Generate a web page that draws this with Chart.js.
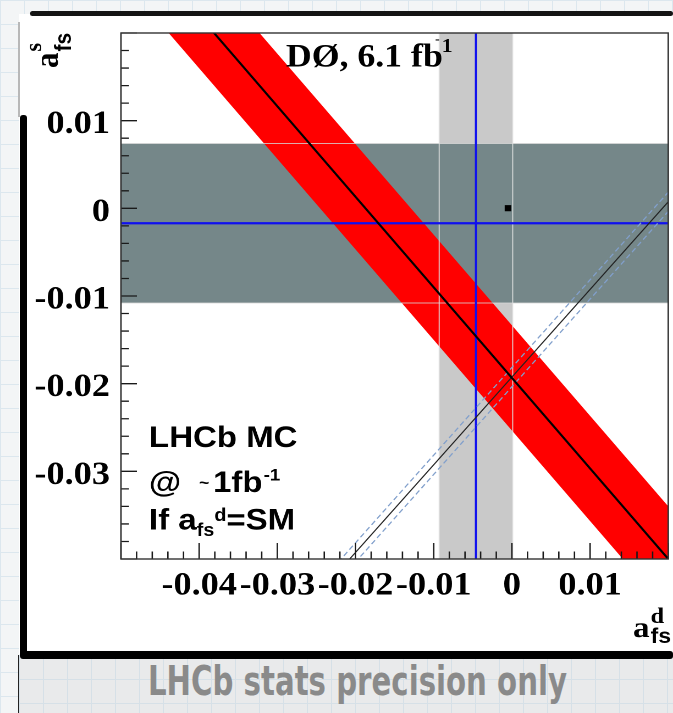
<!DOCTYPE html>
<html>
<head>
<meta charset="utf-8">
<script src="https://cdn.jsdelivr.net/npm/chart.js@4.4.1/dist/chart.umd.min.js"></script>
<style>
  html, body { margin:0; padding:0; }
  body {
    width:673px; height:713px; overflow:hidden; position:relative;
    background-color:#f3f5f6;
    background-image: linear-gradient(#dce7ee 1px, transparent 1px), linear-gradient(90deg, #dce7ee 1px, transparent 1px);
    background-size: 24px 24px;
  }
  #panel { position:absolute; left:19px; top:14px; width:654px; height:640px; background:#fff; }
  #topbar { position:absolute; left:30px; top:11px; width:643px; height:5px; background:#141414; border-radius:3px; }
  #leftfaint { position:absolute; left:18px; top:22px; width:2px; height:95px; background:#b8b8b8; }
  #leftbar { position:absolute; left:20px; top:115px; width:7px; height:541px; background:#000; border-radius:3px; }
  #bottombar { position:absolute; left:20px; top:651px; width:653px; height:8px; background:#000; border-radius:3px; }
  #capbox {
    position:absolute; left:18px; top:655px; width:655px; height:58px;
    background-color:#e9eaeb;
    background-image: linear-gradient(#d6e0e7 1px, transparent 1px), linear-gradient(90deg, #d6e0e7 1px, transparent 1px);
    background-size: 24px 24px;
    border-left:1px solid #222;
  }
  #caption {
    position:absolute; left:148px; top:661px; white-space:nowrap;
    font-family:"Liberation Sans Narrow","DejaVu Sans Condensed","Liberation Sans",sans-serif;
    font-weight:bold; font-size:40px; line-height:40px; color:#8a8a8a;
    transform-origin:0 0;
  }
  #wrap { position:absolute; left:0; top:0; width:612px; height:713px; transform:scaleX(1.09967); transform-origin:0 0; }
  #c { display:block; }
</style>
</head>
<body>
<div id="panel"></div>
<div id="leftfaint"></div>
<div id="topbar"></div>
<div id="leftbar"></div>
<div id="capbox"></div>
<div id="bottombar"></div>
<div id="caption">LHCb stats precision only</div>
<div id="wrap"><canvas id="c" width="612" height="713"></canvas></div>
<script>
// ---- data ----
const xLimits = [-0.05, 0.02];          // a_fs^d axis range
const yLimits = [-0.04, 0.02];          // a_fs^s axis range
const xTickLabels = [-0.04, -0.03, -0.02, -0.01, 0, 0.01];
const yTickLabels = [0.01, 0, -0.01, -0.02, -0.03];
const minorStep = 0.002;

const afsdValue = -0.0046;              // vertical (light grey) band centre
const afsdError = 0.0047;
const afssValue = -0.0017;              // horizontal (dark grey) band centre
const afssError = 0.0091;

const smPoint = [-0.0005, 0.00002];     // small black square

const d0X = [-0.05, 0.02];              // D0 central line (red band)
const d0Y = [0.0323, -0.0400];
const d0HalfWidth = 0.0060;

const lhcbX = [-0.03, 0.03];            // LHCb MC central line
const lhcbY = [-0.04925, 0.01075];
const lhcbHalfWidth = 0.0011;

// ---- build datasets ----
const pts = (xs, ys, dy=0) => xs.map((x,i)=>({x:x, y:ys[i]+dy}));
const dLo = afsdValue - afsdError, dHi = afsdValue + afsdError;
const sLo = afssValue - afssError, sHi = afssValue + afssError;

const vBand = [{x:dLo,y:yLimits[0]},{x:dLo,y:yLimits[1]},{x:dHi,y:yLimits[1]},{x:dHi,y:yLimits[0]}];
const hBand = [{x:xLimits[0],y:sLo},{x:xLimits[0],y:sHi},{x:xLimits[1],y:sHi},{x:xLimits[1],y:sLo}];
const redBand = pts(d0X,d0Y,d0HalfWidth).concat(pts(d0X,d0Y,-d0HalfWidth).reverse());

const base = {showLine:true, pointRadius:0, clip:0, tension:0, fill:false};
const datasets = [
  Object.assign({}, base, {label:'SM', data:[{x:smPoint[0],y:smPoint[1]}], showLine:false, pointStyle:'rect', pointRadius:4.3, backgroundColor:'#000', borderWidth:0, order:0}),
  Object.assign({}, base, {label:'D0 line', data:pts(d0X,d0Y), borderColor:'#000', borderWidth:2, order:1}),
  Object.assign({}, base, {label:'LHCb', data:pts(lhcbX,lhcbY), borderColor:'#222', borderWidth:1.1, order:2}),
  Object.assign({}, base, {label:'LHCb up', data:pts(lhcbX,lhcbY,lhcbHalfWidth), borderColor:'#82a0cc', borderWidth:1.2, borderDash:[5,3], order:3}),
  Object.assign({}, base, {label:'LHCb dn', data:pts(lhcbX,lhcbY,-lhcbHalfWidth), borderColor:'#82a0cc', borderWidth:1.2, borderDash:[5,3], order:3}),
  Object.assign({}, base, {label:'afsd', data:[{x:afsdValue,y:yLimits[0]},{x:afsdValue,y:yLimits[1]}], borderColor:'#1010ee', borderWidth:2, order:4}),
  Object.assign({}, base, {label:'afss', data:[{x:xLimits[0],y:afssValue},{x:xLimits[1],y:afssValue}], borderColor:'#1010ee', borderWidth:2.2, order:4}),
  Object.assign({}, base, {label:'edge dLo', data:[{x:dLo,y:yLimits[0]},{x:dLo,y:yLimits[1]}], borderColor:'rgba(225,225,225,0.85)', borderWidth:1, order:5}),
  Object.assign({}, base, {label:'edge dHi', data:[{x:dHi,y:yLimits[0]},{x:dHi,y:yLimits[1]}], borderColor:'rgba(225,225,225,0.85)', borderWidth:1, order:5}),
  Object.assign({}, base, {label:'edge sLo', data:[{x:xLimits[0],y:sLo},{x:xLimits[1],y:sLo}], borderColor:'rgba(215,215,215,0.8)', borderWidth:1, order:5}),
  Object.assign({}, base, {label:'edge sHi', data:[{x:xLimits[0],y:sHi},{x:xLimits[1],y:sHi}], borderColor:'rgba(215,215,215,0.8)', borderWidth:1, order:5}),
  Object.assign({}, base, {label:'D0 band', data:redBand, borderWidth:0, borderColor:'rgba(0,0,0,0)', backgroundColor:'#ff0000', fill:'shape', order:6}),
  Object.assign({}, base, {label:'afss band', data:hBand, borderWidth:0, borderColor:'rgba(0,0,0,0)', backgroundColor:'#758789', fill:'shape', order:7}),
  Object.assign({}, base, {label:'afsd band', data:vBand, borderWidth:0, borderColor:'rgba(0,0,0,0)', backgroundColor:'#c9c9c9', fill:'shape', order:8})
];

const isMajor = v => Math.abs(v/0.01 - Math.round(v/0.01)) < 1e-6;
const fmt = v => Math.abs(v) < 1e-9 ? '0' : v.toFixed(2);
const inList = (list, v) => list.some(t => Math.abs(t - v) < 1e-9);

const tickFont = {family:'"Liberation Serif", "DejaVu Serif", serif', weight:'bold', size:33};

const framePlugin = {
  id:'frameTicks',
  afterDatasetsDraw(chart){
    const {ctx, chartArea:a, scales} = chart;
    ctx.save();
    ctx.strokeStyle = '#1a1a1a';
    ctx.lineWidth = 1.3;
    ctx.beginPath();
    scales.y.ticks.forEach(t => {
      const py = scales.y.getPixelForValue(t.value);
      const len = isMajor(t.value) ? 14.5 : 7.3;
      ctx.moveTo(a.left, py); ctx.lineTo(a.left + len, py);
    });
    scales.x.ticks.forEach(t => {
      const px = scales.x.getPixelForValue(t.value);
      const len = isMajor(t.value) ? 16 : 7.5;
      ctx.moveTo(px, a.bottom); ctx.lineTo(px, a.bottom - len);
    });
    ctx.stroke();
    ctx.lineWidth = 1.4;
    ctx.strokeStyle = '#333';
    ctx.strokeRect(a.left, a.top, a.right - a.left, a.bottom - a.top);
    ctx.restore();
  },
  afterDraw(chart){
    const ctx = chart.ctx;
    const serif = '"Liberation Serif", "DejaVu Serif", serif';
    const sans = '"Liberation Sans", Arial, sans-serif';
    ctx.save();
    ctx.fillStyle = '#000';
    ctx.textBaseline = 'alphabetic';
    ctx.textAlign = 'left';
    // experiment label
    ctx.font = 'bold 32.5px ' + serif;
    let x = 260;
    ctx.fillText('D\u00D8, 6.1 fb', x, 66.5);
    x += ctx.measureText('D\u00D8, 6.1 fb').width;
    ctx.font = 'bold 13px ' + serif;
    ctx.fillText('-', x - 7, 43);
    ctx.font = 'bold 20px ' + serif;
    ctx.fillText('1', x - 1, 52);

    // LHCb MC annotation
    ctx.font = 'bold 30px ' + sans;
    ctx.fillText('LHCb MC', 135.5, 447);
    ctx.fillText('@', 135.5, 492);
    ctx.font = 'bold 16px ' + sans;
    ctx.fillText('~', 181, 488);
    ctx.font = 'bold 30px ' + sans;
    ctx.fillText('1fb', 193.7, 492);
    x = 193.7 + ctx.measureText('1fb').width;
    ctx.font = 'bold 17px ' + sans;
    ctx.fillText('-1', x + 1, 480.5);
    ctx.font = 'bold 30px ' + sans;
    x = 135.5;
    ctx.fillText('If a', x, 529.5);
    x += ctx.measureText('If a').width;
    ctx.font = 'bold 18px ' + sans;
    ctx.fillText('fs', x, 536);
    const wfs = ctx.measureText('fs').width;
    ctx.fillText('d', x + wfs, 521);
    x += wfs + ctx.measureText('d').width;
    ctx.font = 'bold 30px ' + sans;
    ctx.fillText('=SM', x, 529.5);

    // x-axis title
    ctx.font = 'bold 30px ' + serif;
    ctx.fillText('a', 575.6, 637);
    x = 575.6 + ctx.measureText('a').width + 1;
    ctx.font = 'bold 22px ' + serif;
    ctx.fillText('d', x, 623);
    ctx.font = 'bold 21px ' + sans;
    ctx.fillText('fs', x, 643);

    // y-axis title (rotated)
    ctx.translate(52.5, 68);
    ctx.rotate(-Math.PI/2);
    ctx.font = 'bold 31px ' + serif;
    ctx.fillText('a', 0, 0);
    x = ctx.measureText('a').width + 1;
    ctx.font = 'bold 21px ' + sans;
    ctx.fillText('fs', x, 12);
    ctx.font = 'bold 22px ' + serif;
    ctx.fillText('s', x, -15);
    ctx.restore();
  }
};

new Chart(document.getElementById('c'), {
  type:'scatter',
  data:{datasets:datasets},
  options:{
    responsive:false, maintainAspectRatio:false, animation:false, devicePixelRatio:2,
    layout:{padding:{left:0, top:33, right:2, bottom:0}},
    plugins:{legend:{display:false}, tooltip:{enabled:false}},
    scales:{
      x:{
        type:'linear', min:xLimits[0], max:xLimits[1],
        grid:{display:false, drawTicks:true, tickLength:7}, border:{display:false},
        afterFit(s){ s.height = 154; },
        ticks:{stepSize:minorStep, autoSkip:false, maxRotation:0, minRotation:0, padding:0, color:'#000', font:tickFont,
          callback:(v)=> (isMajor(v) && inList(xTickLabels, v)) ? fmt(v) : ''}
      },
      y:{
        type:'linear', min:yLimits[0], max:yLimits[1],
        grid:{display:false, drawTicks:true, tickLength:10}, border:{display:false},
        afterFit(s){ s.width = 110; },
        ticks:{stepSize:minorStep, autoSkip:false, padding:0, labelOffset:4, color:'#000', font:tickFont,
          callback:(v)=> (isMajor(v) && inList(yTickLabels, v)) ? fmt(v) : ''}
      }
    }
  },
  plugins:[framePlugin]
});

// fit caption width to reference
const cap = document.getElementById('caption');
const w = cap.getBoundingClientRect().width;
cap.style.transform = 'scaleX(' + (419 / w) + ')';
</script>
</body>
</html>
